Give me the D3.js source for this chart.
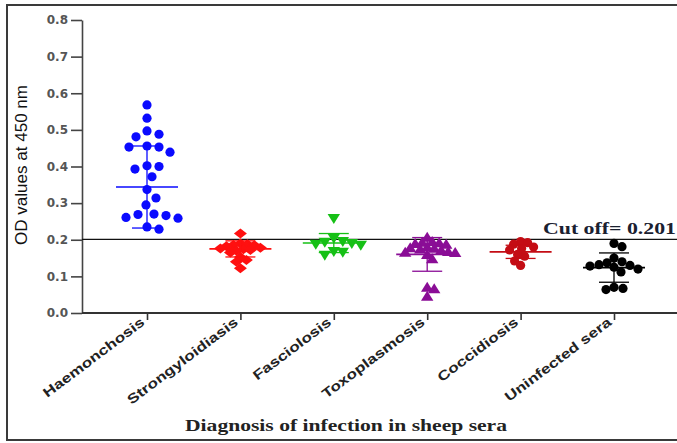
<!DOCTYPE html>
<html lang="en">
<head>
<meta charset="UTF-8">
<title>OD values at 450 nm</title>
<script src="https://cdn.jsdelivr.net/npm/d3@7"></script>
<style>
  body { margin: 0; background: #fff; }
  svg { display: block; }
  .tick text { font-family: 'DejaVu Sans', sans-serif; font-weight: bold; fill: #555; }
</style>
</head>
<body>
<svg id="chart" width="677" height="443"></svg>
<script>
// categories and values
const categories = ["Haemonchosis", "Strongyloidiasis", "Fasciolosis", "Toxoplasmosis", "Coccidiosis", "Uninfected sera"];

const haemonchosis = [0.568, 0.532, 0.497, 0.488, 0.481, 0.456, 0.453, 0.453, 0.439, 0.402, 0.400, 0.393,
                      0.372, 0.337, 0.314, 0.295, 0.270, 0.269, 0.266, 0.261, 0.259, 0.235, 0.229];
const strongyloidiasis = [0.217, 0.190, 0.188, 0.186, 0.185, 0.182, 0.178, 0.176, 0.174, 0.172, 0.170, 0.165,
                          0.153, 0.145, 0.140, 0.122];
const fasciolosis = [0.258, 0.204, 0.195, 0.193, 0.190, 0.188, 0.185, 0.168, 0.166, 0.158];
const toxoplasmosis = [0.207, 0.195, 0.193, 0.192, 0.190, 0.188, 0.180, 0.178, 0.177, 0.175, 0.172, 0.168,
                       0.166, 0.165, 0.160, 0.148, 0.070, 0.066, 0.046];
const coccidiosis = [0.195, 0.192, 0.188, 0.180, 0.176, 0.172, 0.160, 0.155, 0.142, 0.130];
const uninfected = [0.190, 0.181, 0.150, 0.140, 0.137, 0.132, 0.130, 0.128, 0.125, 0.120, 0.112, 0.070, 0.067, 0.064];

const means = [0.344, 0.175, 0.191, 0.160, 0.167, 0.124];
const sds = [0.112, 0.022, 0.026, 0.046, 0.018, 0.040];

const yTicks = [0, 0.1, 0.2, 0.3, 0.4, 0.5, 0.6, 0.7, 0.8];
const cutOff = 0.201;

const groups = [haemonchosis, strongyloidiasis, fasciolosis, toxoplasmosis, coccidiosis, uninfected];
const colors = ["#0a0aff", "#ff1010", "#16c016", "#8a0d96", "#c40c14", "#000000"];
const shapes = ["circle", "diamond", "triDown", "triUp", "circle", "circle"];
// how close two points in the same column may sit (px)
const spacing = [12, 6.2, 9, 6.6, 7, 8.2];

const svg = d3.select("#chart");

// figure frame (right edge is cut off in the original)
svg.append("rect")
    .attr("x", 7).attr("y", 5)
    .attr("width", 700).attr("height", 435)
    .attr("fill", "none")
    .attr("stroke", "#3a3a3a")
    .attr("stroke-width", 2);

const x = d3.scalePoint().domain(categories).range([147, 614]);
const y = d3.scaleLinear().domain([0, 0.8]).range([313, 20]);

// y axis
const yAxis = svg.append("g")
    .attr("transform", "translate(82,0)")
    .call(d3.axisLeft(y).tickValues(yTicks).tickFormat(d3.format(".1f")).tickSize(11).tickSizeOuter(0).tickPadding(3));
yAxis.select(".domain").attr("stroke", "#444").attr("stroke-width", 1.6);
yAxis.selectAll(".tick line").attr("stroke", "#444").attr("stroke-width", 1.6);
yAxis.selectAll(".tick text").style("font-size", "12px");

// x axis
const xAxis = svg.append("g")
    .attr("transform", "translate(0,313)")
    .call(d3.axisBottom(x).tickSize(7).tickSizeOuter(0));
xAxis.select(".domain").remove();
xAxis.selectAll(".tick line").attr("stroke", "#333").attr("stroke-width", 1.6);
xAxis.selectAll(".tick text")
    .attr("text-anchor", "end")
    .attr("dy", 0)
    .attr("transform", "translate(-2,11) rotate(-37)")
    .attr("x", 0).attr("y", 0)
    .style("font-family", "'Liberation Sans', Arial, sans-serif")
    .style("font-size", "13.5px")
    .style("fill", "#222")
    .each(function() {
        const w = this.getComputedTextLength();
        d3.select(this).attr("textLength", w * 1.28).attr("lengthAdjust", "spacingAndGlyphs");
    });

svg.append("line")
    .attr("x1", 82).attr("x2", 677)
    .attr("y1", y(0)).attr("y2", y(0))
    .attr("stroke", "#333").attr("stroke-width", 1.8);

// cut-off line
svg.append("line")
    .attr("x1", 82).attr("x2", 677)
    .attr("y1", y(cutOff)).attr("y2", y(cutOff))
    .attr("stroke", "#111").attr("stroke-width", 1.3);

svg.append("text")
    .attr("x", 543).attr("y", y(cutOff) - 5)
    .attr("textLength", 133).attr("lengthAdjust", "spacingAndGlyphs")
    .style("font-family", "'Liberation Serif', 'Times New Roman', serif")
    .style("font-weight", "bold")
    .style("font-size", "17px")
    .style("fill", "#1a2030")
    .text("Cut off= 0.201");

// axis titles
svg.append("text")
    .attr("transform", "translate(27,165) rotate(-90)")
    .attr("text-anchor", "middle")
    .attr("textLength", 160).attr("lengthAdjust", "spacingAndGlyphs")
    .style("font-family", "'Liberation Sans', Arial, sans-serif")
    .style("font-size", "16px")
    .style("fill", "#111")
    .text("OD values at 450 nm");

svg.append("text")
    .attr("x", 185).attr("y", 431)
    .attr("textLength", 322).attr("lengthAdjust", "spacingAndGlyphs")
    .style("font-family", "'Liberation Serif', 'Times New Roman', serif")
    .style("font-weight", "bold")
    .style("font-size", "17px")
    .style("fill", "#222")
    .text("Diagnosis of infection in sheep sera");

// simple deterministic swarm so points do not pile up on one another
function swarm(values, cx, diam) {
    const placed = [];
    const sorted = values.slice().sort((a, b) => b - a);
    sorted.forEach(v => {
        const py = y(v);
        let off = 0;
        for (let k = 0; k < 200; k++) {
            const cand = k === 0 ? 0 : (k % 2 ? 1 : -1) * Math.ceil(k / 2);
            const ok = placed.every(p => Math.hypot(p.x - (cx + cand), p.y - py) >= diam);
            if (ok) { off = cand; break; }
        }
        placed.push({ x: cx + off, y: py, v: v });
    });
    return placed;
}

function symbolPath(shape) {
    if (shape === "diamond") return "M0,-5L6.5,0L0,5L-6.5,0Z";
    if (shape === "triUp") return "M0,-5.5L6.2,4.5L-6.2,4.5Z";
    if (shape === "triDown") return "M0,5.5L6.2,-4.5L-6.2,-4.5Z";
    return null;
}

groups.forEach((vals, i) => {
    const cx = x(categories[i]);
    const g = svg.append("g");
    const pts = swarm(vals, cx, spacing[i]);
    const col = colors[i];

    if (shapes[i] === "circle") {
        g.selectAll("circle").data(pts).enter().append("circle")
            .attr("cx", d => d.x).attr("cy", d => d.y)
            .attr("r", 4.6)
            .attr("fill", col);
    } else {
        g.selectAll("path").data(pts).enter().append("path")
            .attr("d", symbolPath(shapes[i]))
            .attr("transform", d => `translate(${d.x},${d.y})`)
            .attr("fill", col);
    }

    // mean and SD bars
    const m = means[i], s = sds[i];
    g.append("line")
        .attr("x1", cx - 31).attr("x2", cx + 31)
        .attr("y1", y(m)).attr("y2", y(m))
        .attr("stroke", col).attr("stroke-width", 1.6);
    g.append("line")
        .attr("x1", cx).attr("x2", cx)
        .attr("y1", y(m + s)).attr("y2", y(m - s))
        .attr("stroke", col).attr("stroke-width", 1.3);
    [m + s, m - s].forEach(v => {
        g.append("line")
            .attr("x1", cx - 15).attr("x2", cx + 15)
            .attr("y1", y(v)).attr("y2", y(v))
            .attr("stroke", col).attr("stroke-width", 1.3);
    });
});
</script>
</body>
</html>
